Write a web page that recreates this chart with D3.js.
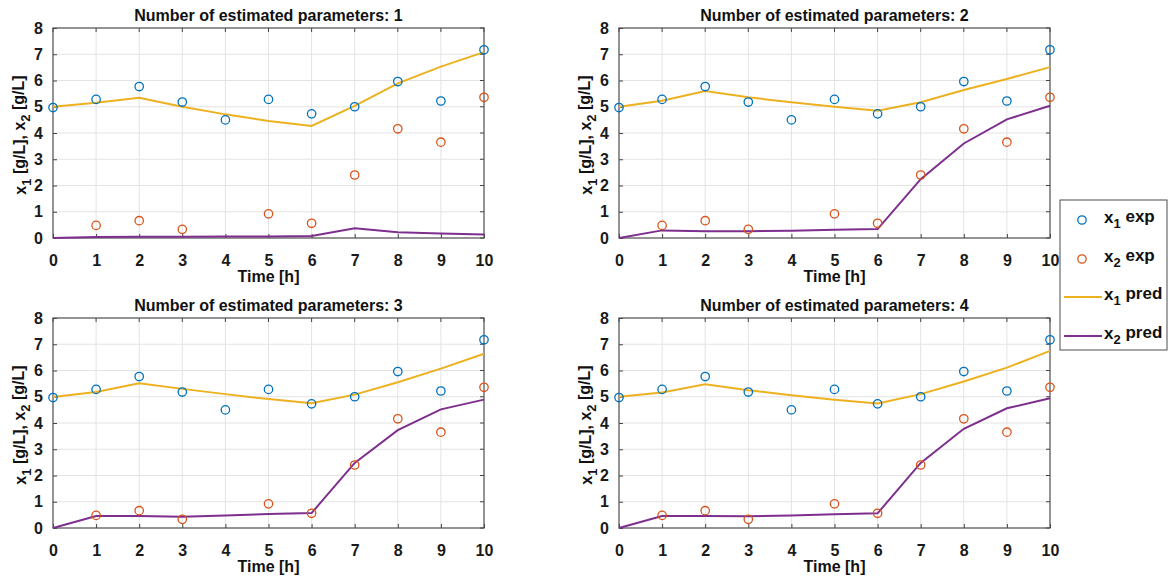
<!DOCTYPE html>
<html>
<head>
<meta charset="utf-8">
<script src="https://cdn.jsdelivr.net/npm/d3@7"></script>
<style>
  html, body { margin: 0; padding: 0; background: #fff; }
  svg { display: block; font-family: "Liberation Sans", Arial, Helvetica, sans-serif; font-weight: bold; }
</style>
</head>
<body>
<svg id="fig" width="1168" height="579"></svg>
<script>
// Sampling times (h)
const time = [0, 1, 2, 3, 4, 5, 6, 7, 8, 9, 10];
const xTicks = [0, 1, 2, 3, 4, 5, 6, 7, 8, 9, 10];
const yTicks = [0, 1, 2, 3, 4, 5, 6, 7, 8];

// Measured concentrations (same in every panel)
const x1Exp = [4.97, 5.28, 5.77, 5.18, 4.50, 5.28, 4.73, 5.00, 5.96, 5.22, 7.17];
const x2ExpTime = [1, 2, 3, 5, 6, 7, 8, 9, 10];
const x2Exp = [0.48, 0.66, 0.33, 0.92, 0.56, 2.40, 4.16, 3.65, 5.36];

// Model predictions for 1..4 estimated parameters
const x1Pred1 = [5.00, 5.15, 5.34, 5.00, 4.71, 4.46, 4.27, 5.03, 5.89, 6.53, 7.08];
const x2Pred1 = [0.00, 0.04, 0.05, 0.05, 0.06, 0.06, 0.08, 0.37, 0.22, 0.17, 0.13];
const x1Pred2 = [5.00, 5.23, 5.60, 5.36, 5.17, 5.00, 4.85, 5.17, 5.64, 6.06, 6.51];
const x2Pred2 = [0.00, 0.29, 0.26, 0.26, 0.28, 0.31, 0.34, 2.24, 3.60, 4.52, 5.04];
const x1Pred3 = [4.99, 5.18, 5.51, 5.30, 5.10, 4.91, 4.75, 5.08, 5.55, 6.07, 6.64];
const x2Pred3 = [0.00, 0.46, 0.46, 0.43, 0.48, 0.53, 0.57, 2.48, 3.73, 4.52, 4.89];
const x1Pred4 = [5.00, 5.16, 5.48, 5.25, 5.06, 4.89, 4.74, 5.10, 5.58, 6.11, 6.75];
const x2Pred4 = [0.00, 0.46, 0.46, 0.45, 0.48, 0.52, 0.56, 2.48, 3.78, 4.56, 4.94];

const panelTitles = [
  "Number of estimated parameters: 1",
  "Number of estimated parameters: 2",
  "Number of estimated parameters: 3",
  "Number of estimated parameters: 4"
];
const legendLabels = [["x", "1", " exp"], ["x", "2", " exp"], ["x", "1", " pred"], ["x", "2", " pred"]];

const colors = { x1Exp: "#0072BD", x2Exp: "#D95319", x1Pred: "#EDB120", x2Pred: "#7E2F8E" };

const panels = [
  { title: panelTitles[0], x1p: x1Pred1, x2p: x2Pred1, left: 53, top: 28 },
  { title: panelTitles[1], x1p: x1Pred2, x2p: x2Pred2, left: 619, top: 28 },
  { title: panelTitles[2], x1p: x1Pred3, x2p: x2Pred3, left: 53, top: 318 },
  { title: panelTitles[3], x1p: x1Pred4, x2p: x2Pred4, left: 619, top: 318 }
];
const plotW = 431, plotH = 210;

const svg = d3.select("#fig");

// Appends base + lowered subscript + rest as tspans
function subText(sel, base, sub, rest, subSize) {
  sel.append("tspan").text(base);
  sel.append("tspan").attr("dy", "0.35em").attr("font-size", subSize).text(sub);
  sel.append("tspan").attr("dy", "-0.35em").text(rest);
}

panels.forEach(p => {
  const g = svg.append("g").attr("transform", `translate(${p.left},${p.top})`);
  const x = d3.scaleLinear().domain([0, 10]).range([0, plotW]);
  const y = d3.scaleLinear().domain([0, 8]).range([plotH, 0]);

  // grid
  g.append("g").selectAll("line").data(xTicks.slice(1, -1)).join("line")
    .attr("x1", d => x(d)).attr("x2", d => x(d)).attr("y1", 0).attr("y2", plotH)
    .attr("stroke", "#e3e3e3").attr("stroke-width", 1);
  g.append("g").selectAll("line").data(yTicks.slice(1, -1)).join("line")
    .attr("y1", d => y(d)).attr("y2", d => y(d)).attr("x1", 0).attr("x2", plotW)
    .attr("stroke", "#e3e3e3").attr("stroke-width", 1);

  // axes with inward ticks
  const ax = g.append("g").attr("transform", `translate(0,${plotH})`)
    .call(d3.axisBottom(x).tickValues(xTicks).tickSize(-4).tickPadding(17).tickFormat(d3.format("d")));
  const ay = g.append("g")
    .call(d3.axisLeft(y).tickValues(yTicks).tickSize(-4).tickPadding(10).tickFormat(d3.format("d")));
  [ax, ay].forEach(a => {
    a.select(".domain").remove();
    a.selectAll(".tick line").attr("stroke", "#444");
    a.selectAll(".tick text").attr("fill", "#1a1a1a").attr("font-size", 16)
      .attr("font-family", "Liberation Sans, Arial, sans-serif").attr("font-weight", "bold");
  });
  // top / right inward ticks
  g.append("g").selectAll("line").data(xTicks).join("line")
    .attr("x1", d => x(d)).attr("x2", d => x(d)).attr("y1", 0).attr("y2", 4).attr("stroke", "#444");
  g.append("g").selectAll("line").data(yTicks).join("line")
    .attr("y1", d => y(d)).attr("y2", d => y(d)).attr("x1", plotW - 4).attr("x2", plotW).attr("stroke", "#444");

  // box
  g.append("rect").attr("x", 0).attr("y", 0).attr("width", plotW).attr("height", plotH)
    .attr("fill", "none").attr("stroke", "#4d4d4d").attr("stroke-width", 1.2);

  // prediction lines
  const line = d3.line().x((d, i) => x(time[i])).y(d => y(d));
  g.append("path").datum(p.x1p).attr("d", line).attr("fill", "none")
    .attr("stroke", colors.x1Pred).attr("stroke-width", 2);
  g.append("path").datum(p.x2p).attr("d", line).attr("fill", "none")
    .attr("stroke", colors.x2Pred).attr("stroke-width", 2);

  // measurements
  g.append("g").selectAll("circle").data(x1Exp).join("circle")
    .attr("cx", (d, i) => x(time[i])).attr("cy", d => y(d)).attr("r", 4.2)
    .attr("fill", "none").attr("stroke", colors.x1Exp).attr("stroke-width", 1.3);
  g.append("g").selectAll("circle").data(x2Exp).join("circle")
    .attr("cx", (d, i) => x(x2ExpTime[i])).attr("cy", d => y(d)).attr("r", 4.2)
    .attr("fill", "none").attr("stroke", colors.x2Exp).attr("stroke-width", 1.3);

  // title
  g.append("text").attr("x", plotW / 2).attr("y", -7).attr("text-anchor", "middle")
    .attr("font-size", 16).attr("fill", "#111").text(p.title);

  // x label
  g.append("text").attr("x", plotW / 2).attr("y", plotH + 44).attr("text-anchor", "middle")
    .attr("font-size", 16).attr("fill", "#111").text("Time [h]");

  // y label
  const yl = g.append("text").attr("transform", `translate(-27,${plotH / 2 + 2}) rotate(-90)`)
    .attr("text-anchor", "middle").attr("font-size", 16).attr("fill", "#111");
  subText(yl, "x", "1", " [g/L], ", 13);
  yl.append("tspan").text("x");
  yl.append("tspan").attr("dy", "0.35em").attr("font-size", 13).text("2");
  yl.append("tspan").attr("dy", "-0.35em").text(" [g/L]");
});

// legend
const lg = svg.append("g").attr("transform", "translate(1060,200)");
lg.append("rect").attr("x", 0).attr("y", 0).attr("width", 107).attr("height", 150)
  .attr("fill", "#fff").attr("stroke", "#4d4d4d").attr("stroke-width", 1);
const rowY = [20, 59, 97, 136];
legendLabels.forEach((lab, i) => {
  const ry = rowY[i];
  if (i < 2) {
    lg.append("circle").attr("cx", 22).attr("cy", ry).attr("r", 4.2).attr("fill", "none")
      .attr("stroke", i === 0 ? colors.x1Exp : colors.x2Exp).attr("stroke-width", 1.3);
  } else {
    lg.append("line").attr("x1", 4).attr("x2", 42).attr("y1", ry).attr("y2", ry)
      .attr("stroke", i === 2 ? colors.x1Pred : colors.x2Pred).attr("stroke-width", 2);
  }
  const t = lg.append("text").attr("x", 44).attr("y", ry + 3).attr("font-size", 17).attr("fill", "#111");
  subText(t, lab[0], lab[1], lab[2], 13);
});
</script>
</body>
</html>
